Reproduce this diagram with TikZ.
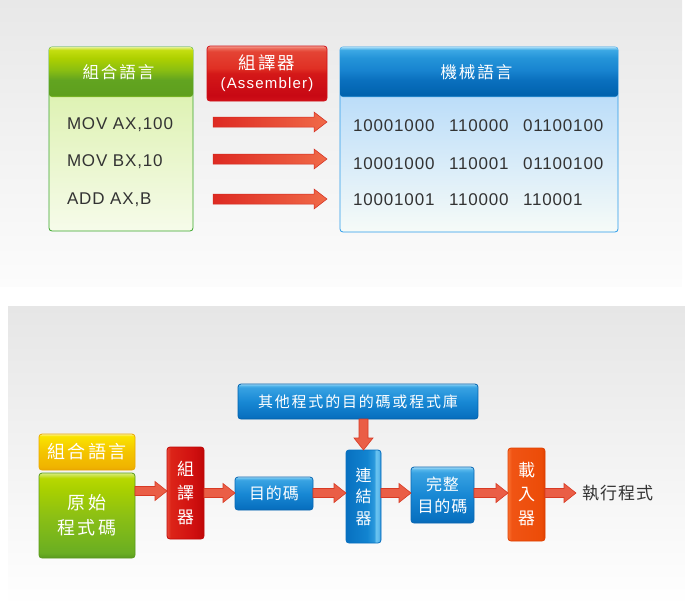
\documentclass[tikz,border=0pt]{standalone}
\usepackage{fontspec}
\setmainfont{Liberation Sans}
\newfontfamily\cjk{Noto Sans CJK TC}[LetterSpace=12]
\newfontfamily\cjkplain{Noto Sans CJK TC}[LetterSpace=0.5]
\newfontfamily\cjkwide{Noto Sans CJK TC}[LetterSpace=6]
\newfontfamily\codefont{Liberation Sans}[LetterSpace=5]
\newfontfamily\asmfont{Liberation Sans}[LetterSpace=8]
\usetikzlibrary{calc}

% ---------- colours ----------
\definecolor{txtdark}{HTML}{333333}
\definecolor{gA}{HTML}{8CC42A}\definecolor{gB}{HTML}{5E9F1E}\definecolor{gC}{HTML}{62A420}
\definecolor{gD}{HTML}{8ABE12}\definecolor{gE}{HTML}{AED000}\definecolor{gF}{HTML}{C4DE10}\definecolor{gG}{HTML}{E4F090}
\definecolor{bA}{HTML}{3FA0E0}\definecolor{bB}{HTML}{0062AE}\definecolor{bC}{HTML}{0A70BE}
\definecolor{bD}{HTML}{1884D0}\definecolor{bE}{HTML}{2494D8}\definecolor{bF}{HTML}{3CA8E4}\definecolor{bG}{HTML}{A0DAF6}
\definecolor{rA}{HTML}{D01018}\definecolor{rB}{HTML}{C80814}\definecolor{rC}{HTML}{D41818}
\definecolor{rD}{HTML}{E03024}\definecolor{rE}{HTML}{E44434}\definecolor{rF}{HTML}{EC6A5A}\definecolor{rG}{HTML}{F4A090}
\definecolor{yA}{HTML}{EAA800}\definecolor{yB}{HTML}{F0B400}\definecolor{yC}{HTML}{F4C400}
\definecolor{yD}{HTML}{F8DA00}\definecolor{yE}{HTML}{FAE400}\definecolor{yF}{HTML}{FCF290}
\definecolor{g2A}{HTML}{5A9A1E}\definecolor{g2B}{HTML}{6AAE22}\definecolor{g2C}{HTML}{8CC014}
\definecolor{g2D}{HTML}{A8D000}\definecolor{g2E}{HTML}{B8D800}\definecolor{g2F}{HTML}{D8EC80}
\definecolor{hbA}{HTML}{0A68B4}\definecolor{hbB}{HTML}{0870C0}\definecolor{hbC}{HTML}{1888D4}
\definecolor{hbD}{HTML}{38A2E2}\definecolor{hbE}{HTML}{58B8EC}\definecolor{hbF}{HTML}{A8DCF6}
\definecolor{vrA}{HTML}{E84838}\definecolor{vrB}{HTML}{DC2418}\definecolor{vrC}{HTML}{D01010}\definecolor{vrD}{HTML}{C00808}
\definecolor{vbA}{HTML}{0870C0}\definecolor{vbB}{HTML}{1284D0}\definecolor{vbC}{HTML}{2A98DC}
\definecolor{vbD}{HTML}{6CC4F0}\definecolor{vbE}{HTML}{5AB8EC}\definecolor{vbF}{HTML}{1A80CC}
\definecolor{oA}{HTML}{F87030}\definecolor{oB}{HTML}{F05414}\definecolor{oC}{HTML}{EC4C08}\definecolor{oD}{HTML}{E04000}
\definecolor{gborder}{HTML}{3AA62A}\definecolor{gtop}{HTML}{D6EFA0}\definecolor{gbot}{HTML}{F6FBEA}
\definecolor{bborder}{HTML}{2A9CEA}\definecolor{btop}{HTML}{A6D2FA}\definecolor{bbot}{HTML}{F6FBF8}
\definecolor{arrowfill}{HTML}{EA5E46}\definecolor{arrowline}{HTML}{D83A24}
\definecolor{tarrowL}{HTML}{DE2A22}\definecolor{tarrowR}{HTML}{F06A48}\definecolor{tarrowline}{HTML}{D22A1E}
\definecolor{bgtop}{HTML}{E8E8E8}\definecolor{bgbot}{HTML}{FCFCFC}\definecolor{bgtopb}{HTML}{E6E6E6}

% ---------- shadings ----------
\pgfdeclareverticalshading{gheadsh}{100bp}{color(0bp)=(gA); color(25bp)=(gA); color(27bp)=(gB);
  color(42bp)=(gC); color(52bp)=(gD); color(64bp)=(gE); color(72bp)=(gF); color(75bp)=(gG); color(100bp)=(gG)}
\pgfdeclareverticalshading{bheadsh}{100bp}{color(0bp)=(bA); color(25bp)=(bA); color(27bp)=(bB);
  color(42bp)=(bC); color(52bp)=(bD); color(64bp)=(bE); color(72bp)=(bF); color(75bp)=(bG); color(100bp)=(bG)}
\pgfdeclareverticalshading{rheadsh}{100bp}{color(0bp)=(rA); color(25bp)=(rA); color(30bp)=(rB);
  color(50bp)=(rC); color(55bp)=(rD); color(70bp)=(rE); color(73bp)=(rF); color(75bp)=(rG); color(100bp)=(rG)}
\pgfdeclareverticalshading{yellowsh}{100bp}{color(0bp)=(yA); color(25bp)=(yA); color(30bp)=(yB);
  color(50bp)=(yC); color(65bp)=(yD); color(72bp)=(yE); color(75bp)=(yF); color(100bp)=(yF)}
\pgfdeclareverticalshading{greensh}{100bp}{color(0bp)=(g2A); color(25bp)=(g2A); color(28bp)=(g2B);
  color(50bp)=(g2C); color(65bp)=(g2D); color(72bp)=(g2E); color(75bp)=(g2F); color(100bp)=(g2F)}
\pgfdeclareverticalshading{hbluesh}{100bp}{color(0bp)=(hbA); color(25bp)=(hbA); color(28bp)=(hbB);
  color(50bp)=(hbC); color(70bp)=(hbD); color(73bp)=(hbE); color(75bp)=(hbF); color(100bp)=(hbF)}
\pgfdeclarehorizontalshading{vredsh}{100bp}{color(0bp)=(vrA); color(25bp)=(vrA); color(30bp)=(vrB);
  color(60bp)=(vrC); color(75bp)=(vrD); color(100bp)=(vrD)}
\pgfdeclarehorizontalshading{vbluesh}{100bp}{color(0bp)=(vbA); color(25bp)=(vbA); color(55bp)=(vbB);
  color(65bp)=(vbC); color(68bp)=(vbD); color(72bp)=(vbE); color(75bp)=(vbF); color(100bp)=(vbF)}
\pgfdeclarehorizontalshading{orangesh}{100bp}{color(0bp)=(oA); color(25bp)=(oA); color(30bp)=(oB);
  color(70bp)=(oC); color(75bp)=(oD); color(100bp)=(oD)}

% ---------- block arrows ----------
% #1 style, #2 start, #3 end, #4 shaft half width, #5 head half width, #6 head length
\newcommand\hblockarrow[6]{%
  \path[#1] let \p1=#2, \p2=#3 in
    (\x1,\y1+#4) -- (\x2-#6,\y1+#4) -- (\x2-#6,\y1+#5) -- (\x2,\y1)
    -- (\x2-#6,\y1-#5) -- (\x2-#6,\y1-#4) -- (\x1,\y1-#4) -- cycle;}
\newcommand\vblockarrow[6]{%
  \path[#1] let \p1=#2, \p2=#3 in
    (\x1-#4,\y1) -- (\x1-#4,\y2+#6) -- (\x1-#5,\y2+#6) -- (\x1,\y2)
    -- (\x1+#5,\y2+#6) -- (\x1+#4,\y2+#6) -- (\x1+#4,\y1) -- cycle;}

\begin{document}
\begin{tikzpicture}[x=1pt,y=-1pt,
  every node/.style={inner sep=0pt, outer sep=0pt},
  box/.style={rounded corners=3pt, line width=0.8pt, text=white, align=center},
  codetxt/.style={anchor=west, text=txtdark, font=\codefont\fontsize{17}{17}\selectfont,
                  text height=12pt, text depth=0pt},
  toparrow/.style={left color=tarrowL, right color=tarrowR, draw=tarrowline, line width=0.5pt},
  botarrow/.style={fill=arrowfill, draw=arrowline, line width=0.6pt}]
\useasboundingbox (0,0) rectangle (685,606);

% backgrounds
\shade[top color=bgtop, bottom color=bgbot] (0,0) rectangle (682,286);
\shade[top color=bgtopb, bottom color=white] (8,306) rectangle (685,606);

% ---------- top panel ----------
\node[box, draw=gborder, top color=gtop, bottom color=gbot,
      minimum width=144pt, minimum height=184pt] (gbox) at (121,139) {};
\node[box, shading=gheadsh, minimum width=144pt, minimum height=50pt,
      font=\cjk\fontsize{16.5}{16.5}\selectfont] (ghdr) at (121,72) {組合語言\hspace*{5pt}};

\node[box, draw=rA, shading=rheadsh, minimum width=120pt, minimum height=55pt,
      font=\fontsize{15}{19}\selectfont] (asm) at (267,73.5)
      {{\cjk\fontsize{17.5}{19}\selectfont 組譯器}\\{\asmfont\fontsize{15}{19}\selectfont (Assembler)}};

\node[box, draw=bborder, top color=btop, bottom color=bbot,
      minimum width=278pt, minimum height=185pt] (bbox) at (479,139.5) {};
\node[box, shading=bheadsh, minimum width=278pt, minimum height=50pt,
      font=\cjk\fontsize{16.5}{16.5}\selectfont] (bhdr) at (479,72) {機械語言\hspace*{5pt}};

\node[codetxt] (m1) at (67,123) {MOV AX,100};
\node[codetxt] (m2) at (67,160) {MOV BX,10};
\node[codetxt] (m3) at (67,198) {ADD AX,B};

\node[codetxt] (b11) at (353,125) {10001000};
\node[codetxt] (b12) at (449,125) {110000};
\node[codetxt] (b13) at (523,125) {01100100};
\node[codetxt] (b21) at (353,163) {10001000};
\node[codetxt] (b22) at (449,163) {110001};
\node[codetxt] (b23) at (523,163) {01100100};
\node[codetxt] (b31) at (353,199) {10001001};
\node[codetxt] (b32) at (449,199) {110000};
\node[codetxt] (b33) at (523,199) {110001};

\hblockarrow{toparrow}{($(gbox.east |- m1)+(20,-1)$)}{($(bbox.west |- m1)+(-13,-1)$)}{5pt}{10pt}{13pt}
\hblockarrow{toparrow}{($(gbox.east |- m2)+(20,-1)$)}{($(bbox.west |- m2)+(-13,-1)$)}{5pt}{10pt}{13pt}
\hblockarrow{toparrow}{($(gbox.east |- m3)+(20,1)$)}{($(bbox.west |- m3)+(-13,1)$)}{5pt}{10pt}{13pt}

% ---------- bottom panel ----------
\node[box, draw=bB, shading=hbluesh, minimum width=240pt, minimum height=35pt,
      font=\cjk\fontsize{15}{15}\selectfont] (other) at (358,401.5) {其他程式的目的碼或程式庫};

\node[box, draw=yA, shading=yellowsh, minimum width=96pt, minimum height=36pt,
      font=\cjk\fontsize{18}{18}\selectfont] (asmlang) at (87,452) {組合語言};
\node[box, draw=g2A, shading=greensh, minimum width=96pt, minimum height=85pt,
      font=\cjk\fontsize{18}{25}\selectfont] (src) at (87,515.5) {原始\\程式碼};

\node[box, draw=vrD, shading=vredsh, minimum width=37pt, minimum height=92pt,
      font=\cjkplain\fontsize{17}{24}\selectfont] (asm2) at (185.5,493) {組\\譯\\器};
\node[box, draw=hbA, shading=hbluesh, minimum width=78pt, minimum height=33pt,
      font=\cjkwide\fontsize{16}{16}\selectfont] (obj) at (274,493.5) {目的碼};
\node[box, draw=vbA, shading=vbluesh, minimum width=35pt, minimum height=93pt,
      font=\cjkplain\fontsize{16}{21.5}\selectfont] (link) at (363.5,496.5) {連\\結\\器};
\node[box, draw=hbA, shading=hbluesh, minimum width=63pt, minimum height=56pt,
      font=\cjkwide\fontsize{16}{22}\selectfont] (full) at (442.5,495) {完整\\目的碼};
\node[box, draw=oD, shading=orangesh, minimum width=37pt, minimum height=93pt,
      font=\cjkplain\fontsize{17}{24}\selectfont] (load) at (526.5,494.5) {載\\入\\器};
\node[anchor=west, text=txtdark, font=\cjkwide\fontsize{17}{17}\selectfont] (exec) at (582,493) {執行程式};

\coordinate (row1) at (0,491);
\coordinate (row) at (0,493);
\hblockarrow{botarrow}{(src.east |- row1)}{(asm2.west |- row1)}{4.5pt}{9.5pt}{12pt}
\hblockarrow{botarrow}{(asm2.east |- row)}{(obj.west |- row)}{4.5pt}{9.5pt}{12pt}
\hblockarrow{botarrow}{(obj.east |- row)}{(link.west |- row)}{4.5pt}{9.5pt}{12pt}
\hblockarrow{botarrow}{(link.east |- row)}{(full.west |- row)}{4.5pt}{9.5pt}{12pt}
\hblockarrow{botarrow}{(full.east |- row)}{(load.west |- row)}{4.5pt}{9.5pt}{12pt}
\hblockarrow{botarrow}{(load.east |- row)}{($(exec.west |- row)+(-6,0)$)}{4.5pt}{9.5pt}{12pt}
\vblockarrow{botarrow}{(link.north |- other.south)}{(link.north)}{4.5pt}{9.5pt}{12pt}
\end{tikzpicture}
\end{document}
